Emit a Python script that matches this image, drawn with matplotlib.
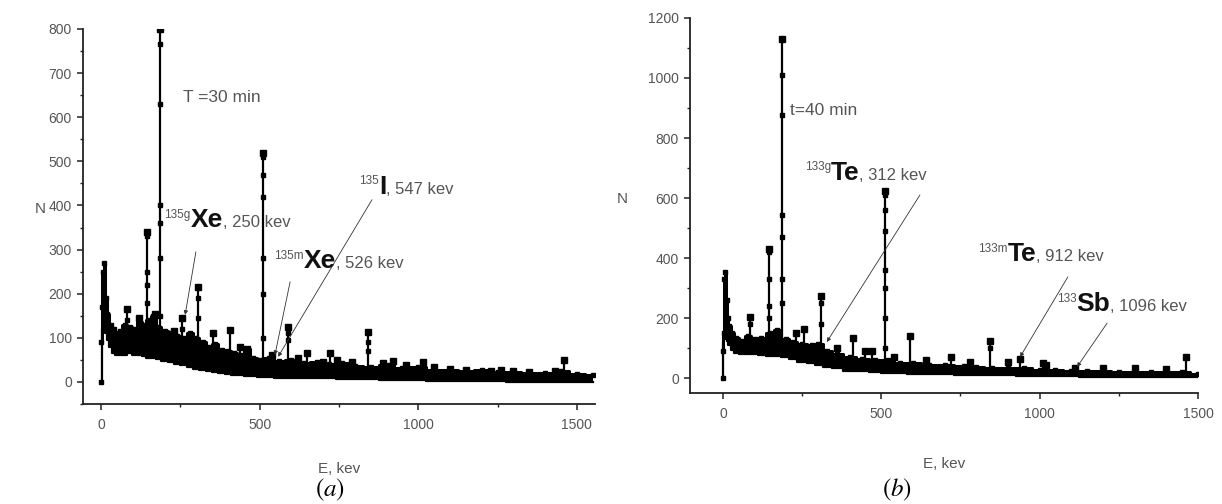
import matplotlib
matplotlib.use("Agg")
import matplotlib.pyplot as plt
from matplotlib.ticker import MultipleLocator

plt.rcParams['font.family'] = ['Liberation Sans', 'DejaVu Sans']
plt.rcParams['mathtext.fontset'] = 'stix'

# ---------------- Panel (a): T = 30 min ----------------
Ea_env = [0, 3, 6, 10, 15, 20, 30, 40, 50, 60, 75, 90, 105, 120, 135, 150, 165, 180, 200,
          220, 240, 260, 280, 300, 320, 340, 360, 380, 400, 420, 440, 460, 480, 500, 530,
          560, 600, 640, 680, 720, 760, 800, 850, 900, 950, 1000, 1050, 1100, 1150, 1200,
          1250, 1300, 1350, 1400, 1450, 1500, 1550]
Na_up = [90, 170, 250, 270, 190, 155, 130, 120, 110, 115, 130, 125, 120, 135, 130, 140, 150,
         125, 115, 110, 105, 100, 110, 100, 90, 80, 85, 72, 70, 65, 60, 75, 55, 50, 55, 48, 50,
         42, 45, 40, 42, 36, 35, 38, 32, 35, 26, 28, 24, 26, 22, 22, 20, 20, 24, 18, 16]
Na_lo = [0, 100, 120, 130, 110, 95, 80, 65, 60, 60, 62, 65, 62, 60, 58, 55, 55, 52, 48, 45,
         40, 38, 35, 30, 28, 25, 22, 20, 18, 16, 15, 14, 13, 12, 11, 10, 10, 9, 8, 8, 7, 6,
         6, 5, 5, 4, 3, 3, 2, 2, 2, 1, 1, 1, 1, 0, 0]
Ea_pk = [83, 120, 145, 170, 186, 230, 255, 305, 353, 407, 438, 459, 511, 540, 589, 620, 650,
         700, 722, 743, 790, 842, 889, 920, 960, 1015, 1050, 1100, 1150, 1230, 1260, 1300,
         1350, 1430, 1460]
Na_pk = [165, 145, 340, 155, 800, 115, 145, 215, 110, 118, 80, 75, 520, 60, 125, 55, 65, 45,
         65, 50, 45, 113, 43, 48, 38, 45, 35, 30, 28, 25, 28, 25, 22, 25, 50]
# extra data points visible along the tall peaks (E, list of N)
Ea_pts = [145, 186, 511, 305, 589, 842, 255, 83]
Na_pts = [[330, 250, 220, 180], [765, 630, 400, 360, 280, 150], [510, 470, 420, 280, 200, 100],
          [190, 145], [110, 95], [90, 70], [120], [140]]

# ---------------- Panel (b): t = 40 min ----------------
Eb_env = [0, 3, 5, 8, 12, 15, 20, 30, 40, 60, 80, 100, 120, 150, 170, 200, 220, 250, 280,
          300, 330, 360, 400, 440, 480, 520, 560, 600, 650, 700, 760, 800, 850, 900, 950,
          1000, 1050, 1100, 1150, 1200, 1250, 1300, 1350, 1400, 1450, 1500]
Nb_up = [90, 150, 330, 355, 260, 200, 175, 150, 135, 125, 140, 130, 135, 150, 160, 130, 120,
         115, 110, 115, 90, 80, 70, 65, 60, 60, 50, 50, 45, 42, 40, 36, 34, 32, 34, 28, 27,
         25, 23, 23, 21, 21, 19, 19, 21, 15]
Nb_lo = [0, 120, 130, 140, 135, 125, 110, 95, 85, 80, 80, 80, 78, 75, 72, 70, 62, 55, 50,
         45, 38, 32, 25, 22, 20, 18, 16, 14, 13, 12, 11, 10, 9, 9, 8, 7, 6, 6, 5, 5, 4, 4, 3,
         3, 3, 3]
Eb_pk = [85, 145, 186, 230, 256, 309, 360, 410, 450, 470, 511, 540, 590, 640, 720, 780, 843,
         900, 938, 1010, 1020, 1110, 1200, 1300, 1400, 1462]
Nb_pk = [205, 430, 1130, 150, 165, 275, 100, 135, 90, 90, 624, 70, 141, 60, 70, 55, 124, 55,
         65, 50, 45, 35, 35, 32, 30, 69]
Eb_pts = [145, 186, 511, 309, 85, 843]
Nb_pts = [[420, 330, 240, 200], [1010, 875, 545, 470, 330, 250], [610, 560, 490, 360, 300, 200, 100],
          [250, 180], [180], [100]]

ink = 'black'
axc = '#222222'
txtc = '#555555'

fig = plt.figure(figsize=(12.22, 5.04), dpi=100)
axA = fig.add_axes([0.0679, 0.1984, 0.4190, 0.7441])
axB = fig.add_axes([0.5646, 0.2202, 0.4158, 0.7441])


def draw_spectrum(ax, E, up, lo, epk, npk, epts, npts):
    ax.plot([E[0], E[0]], [0, up[0]], ls=':', color=ink, lw=0.8)
    ax.plot([E[0]], [0], 's', color=ink, ms=3.5)
    ax.fill_between(E, lo, up, step='mid', color=ink, lw=0)
    ax.plot(E, up, drawstyle='steps-mid', color=ink, lw=2.2, marker='s', ms=3)
    ax.plot(E, lo, drawstyle='steps-mid', color=ink, lw=1.6)
    for e, n in zip(epk, npk):
        base = min(up[min(range(len(E)), key=lambda i: abs(E[i] - e))], n)
        ax.plot([e, e], [base, n], color=ink, lw=1.6)
        ax.plot([e - 4, e + 4], [n, n], color=ink, lw=1.2)
        ax.plot([e], [n], 's', color=ink, ms=3.8)
    for e, ns in zip(epts, npts):
        ax.plot([e] * len(ns), ns, 's', color=ink, ms=3.4)


def style_axes(ax, xlim, ylim, ymaj, ymin):
    ax.set_xlim(*xlim)
    ax.set_ylim(*ylim)
    for s in ('top', 'right'):
        ax.spines[s].set_visible(False)
    for s in ('left', 'bottom'):
        ax.spines[s].set_color(axc)
        ax.spines[s].set_linewidth(1.3)
    ax.xaxis.set_major_locator(MultipleLocator(500))
    ax.xaxis.set_minor_locator(MultipleLocator(250))
    ax.yaxis.set_major_locator(MultipleLocator(ymaj))
    ax.yaxis.set_minor_locator(MultipleLocator(ymin))
    ax.tick_params(which='major', direction='out', length=4, width=1.1, color=axc,
                   labelsize=10, labelcolor=txtc)
    ax.tick_params(which='minor', direction='out', length=2.5, width=1.0, color=axc)
    ax.tick_params(axis='x', pad=6)
    ax.tick_params(axis='y', pad=4)


def label(ax, x, y, sup, elem, rest):
    t1 = ax.text(x, y, sup, fontsize=8.5, color=txtc, va='bottom', ha='left')
    t2 = ax.annotate(elem, xy=(1, 1.05), xycoords=t1, fontsize=19, fontweight='bold',
                     color='#111111', va='top', ha='left')
    ax.annotate(rest, xy=(1, 0.08), xycoords=t2, fontsize=12, color=txtc,
                va='bottom', ha='left')


def arrow(ax, start, tip):
    ax.annotate('', xy=tip, xytext=start,
                arrowprops=dict(arrowstyle='-|>', color='#333333', lw=0.6,
                                mutation_scale=6, shrinkA=0, shrinkB=0))


# ---- panel a ----
draw_spectrum(axA, Ea_env, Na_up, Na_lo, Ea_pk, Na_pk, Ea_pts, Na_pts)
style_axes(axA, (-57, 1557), (-50, 800), 100, 50)
axA.set_ylabel('N', rotation=0, fontsize=11, color=txtc)
axA.yaxis.set_label_coords(-0.084, 0.5)
axA.set_xlabel('E, kev', fontsize=11, color=txtc)
axA.xaxis.set_label_coords(0.5, -0.155)
axA.text(258, 644, 'T =30 min', fontsize=12.5, color=txtc, va='center', ha='left')
label(axA, 200, 365, '135g', 'Xe', ', 250 kev')
label(axA, 546, 272, '135m', 'Xe', ', 526 kev')
label(axA, 814, 441, '135', 'I', ', 547 kev')
arrow(axA, (299, 295), (265, 152))
arrow(axA, (596, 227), (548, 61))
arrow(axA, (854, 413), (558, 57))

# ---- panel b ----
draw_spectrum(axB, Eb_env, Nb_up, Nb_lo, Eb_pk, Nb_pk, Eb_pts, Nb_pts)
style_axes(axB, (-104, 1500), (-50, 1200), 200, 100)
axB.set_ylabel('N', rotation=0, fontsize=11, color=txtc)
axB.yaxis.set_label_coords(-0.134, 0.5)
axB.set_xlabel('E, kev', fontsize=11, color=txtc)
axB.xaxis.set_label_coords(0.5, -0.17)
axB.text(212, 890, 't=40 min', fontsize=12.5, color=txtc, va='center', ha='left')
label(axB, 258, 683, '133g', 'Te', ', 312 kev')
label(axB, 806, 411, '133m', 'Te', ', 912 kev')
label(axB, 1054, 245, '133', 'Sb', ', 1096 kev')
arrow(axB, (622, 610), (328, 120))
arrow(axB, (1089, 337), (938, 70))
arrow(axB, (1213, 183), (1118, 37))

fig.text(330 / 1222, 1 - 490 / 504, r'$(a)$', fontsize=18, ha='center', va='center')
fig.text(897 / 1222, 1 - 490 / 504, r'$(b)$', fontsize=18, ha='center', va='center')

fig.savefig('out.png', dpi=100)
